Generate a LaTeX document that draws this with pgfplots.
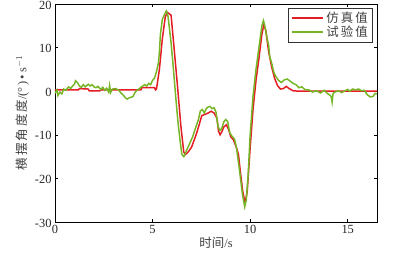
\documentclass[border=0pt]{standalone}
\usepackage{pgfplots}
\pgfplotsset{compat=1.18}
\usepackage{fontspec}
\setmainfont{Liberation Serif}
\newfontfamily\cjk{Noto Sans CJK SC}
\definecolor{simred}{RGB}{228,28,36}
\definecolor{expgreen}{RGB}{118,182,38}
\begin{document}
\begin{tikzpicture}
\useasboundingbox (-55bp,-39bp) rectangle (343bp,222bp);
\begin{axis}[
  at={(0,0)}, anchor=south west,
  scale only axis, width=322bp, height=218bp,
  xmin=0, xmax=16.5, ymin=-30, ymax=20,
  xtick={0,5,10,15}, ytick={-30,-20,-10,0,10,20},
  tick align=inside, tick pos=both,
  major tick length=3bp,
  axis line style={line width=0.8pt},
  tick style={line width=0.6pt, black},
  /pgf/number format/assume math mode=true,
  ticklabel style={font=\fontsize{12.5}{13}\selectfont, text=black!85},
  yticklabel style={yshift=-1bp},
  xlabel={\cjk 时间\rmfamily/s},
  ylabel={\cjk 横\,摆\,角\,度\,度\rmfamily/(°\,)\,•\,s$^{-1}$},
  xlabel style={font=\fontsize{12.5}{13}\selectfont, text=black!75, yshift=4bp},
  ylabel style={font=\fontsize{12.5}{13}\selectfont, text=black!75, yshift=-1bp},
  legend style={at={(rel axis cs:0.988,0.982)}, anchor=north east,
    draw=black!80, line width=0.7pt, font=\cjk\fontsize{12.5}{13}\selectfont,
    text=black!75, inner xsep=3pt, inner ysep=2pt, row sep=-2pt, cells={anchor=west}},
  legend image post style={line width=1.7pt},
  legend image code/.code={\draw[#1] (0bp,0bp) -- (31bp,0bp);},
]
\addplot[simred, line width=1.5pt] coordinates {
(0,0.3) (1.2,0.3) (1.25,0.6) (1.7,0.5) (1.75,0.1) (2.3,0.1) (2.35,0.3) (4.4,0.3) (4.45,0.8) (5.1,0.8) (5.15,0.3) (5.2,0.5)
(5.35,5) (5.5,12) (5.65,17) (5.75,18.1) (5.85,17.8) (5.95,17.4) (6.1,10) (6.3,0) (6.45,-8) (6.6,-14) (6.7,-14.5)
(6.85,-13.8) (7.0,-12.8) (7.15,-11) (7.26,-9.6) (7.4,-7.5) (7.52,-5.6) (7.7,-5.3) (7.85,-5.0) (8.0,-4.6) (8.15,-5.0)
(8.3,-6.2) (8.38,-9.2) (8.46,-10) (8.55,-9.3) (8.65,-8.2) (8.78,-7.7) (8.9,-8.8) (9.0,-10.4) (9.15,-11.2) (9.3,-13)
(9.4,-14.5) (9.5,-18.5) (9.62,-23) (9.74,-25.6) (9.85,-23) (10.0,-13) (10.15,-4) (10.3,2.5) (10.45,7.5) (10.6,13)
(10.7,15.3) (10.8,14) (10.95,9) (11.1,5.6) (11.25,3.0) (11.4,1.3) (11.55,0.5) (11.7,0.6) (11.85,1.1) (12.0,0.6)
(12.2,0.1) (12.5,0) (16.5,0)
};
\addlegendentry{仿\,真\,值}
\addplot[expgreen, line width=1.5pt] coordinates {
(0,-0.5) (0.1,0.3) (0.15,-1) (0.25,-0.2) (0.35,-0.6) (0.45,0.5) (0.55,0.2) (0.7,1.0) (0.8,0.6) (0.9,1.2) (1.0,1.6)
(1.05,2.4) (1.15,2.0) (1.25,1.2) (1.35,0.9) (1.45,1.5) (1.55,1.0) (1.7,1.6) (1.8,1.2) (1.9,1.5) (2.0,1.0) (2.1,0.8)
(2.2,1.1) (2.35,0.4) (2.45,0.9) (2.55,0.2) (2.65,0.7) (2.75,-0.2) (2.8,1.3) (2.85,-0.3) (2.95,0.5) (3.1,0.6) (3.25,0.3)
(3.4,-0.5) (3.5,-0.9) (3.6,-1.5) (3.7,-1.8) (3.8,-1.5) (3.9,-1.4) (4.0,-1.2) (4.1,-0.3) (4.2,0.2) (4.3,0.5) (4.4,0.9)
(4.5,1.2) (4.6,1.5) (4.7,1.2) (4.8,1.8) (4.9,1.5) (5.0,2.5) (5.1,3.0) (5.2,4.5) (5.3,6.5) (5.35,9) (5.4,13) (5.5,16.5)
(5.6,17.5) (5.7,18.4) (5.78,17.5) (5.85,15) (5.95,11) (6.05,6) (6.2,-2) (6.3,-7) (6.4,-11) (6.5,-14.5) (6.6,-15)
(6.7,-14) (6.8,-13) (6.9,-12) (7.05,-10.5) (7.2,-8.5) (7.35,-6.5) (7.45,-4.5) (7.55,-4.2) (7.65,-5.0) (7.75,-4)
(7.85,-3.6) (7.95,-3.5) (8.05,-4) (8.15,-3.8) (8.25,-4.8) (8.35,-8) (8.45,-9) (8.55,-8.5) (8.65,-7) (8.75,-6.5)
(8.85,-7) (8.95,-9.5) (9.05,-10.2) (9.2,-11) (9.3,-13) (9.45,-18) (9.6,-23.5) (9.72,-26.5) (9.8,-25) (9.9,-19)
(10.0,-10) (10.15,-1) (10.3,5) (10.45,10) (10.6,15) (10.68,16.2) (10.75,15) (10.85,12.5) (10.95,10.5) (11.0,8)
(11.1,6.5) (11.2,4.5) (11.3,3.5) (11.45,2.5) (11.6,2.0) (11.75,2.6) (11.9,2.8) (12.05,2.3) (12.2,1.8) (12.35,1.5)
(12.5,0.8) (12.65,1.0) (12.8,0.4) (13.0,0.3) (13.2,-0.2) (13.4,0.1) (13.6,-0.4) (13.8,0.2) (13.95,-0.5) (14.05,-0.8)
(14.15,-1.2) (14.2,-2.5) (14.25,-0.5) (14.35,-0.2) (14.5,0.1) (14.7,-0.3) (14.9,0.2) (15.0,0.4) (15.1,0.0) (15.25,0.5)
(15.4,0.3) (15.55,0.5) (15.7,0.1) (15.85,0.2) (16.0,-0.8) (16.15,-1.3) (16.3,-1.2) (16.4,-0.5) (16.5,-0.6)
};
\addlegendentry{试\,验\,值}
\end{axis}
\end{tikzpicture}
\end{document}
